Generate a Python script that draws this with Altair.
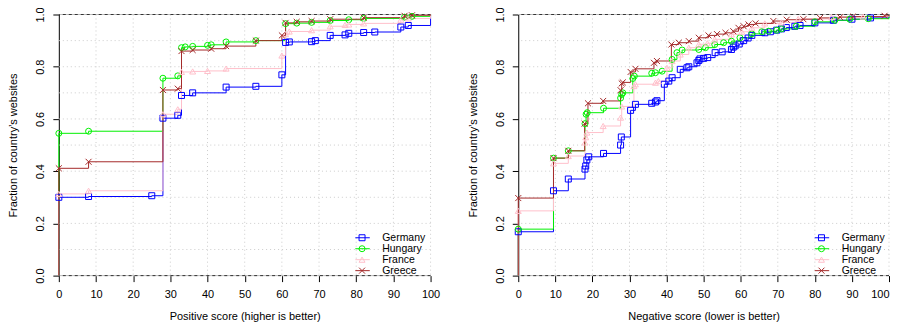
import altair as alt
import pandas as pd

SERIES = ["Germany", "Hungary", "France", "Greece"]
COLORS = ["#0000FF", "#00F000", "#FFC0CB", "#A52A2A"]
SHAPES = ["square", "circle", "triangle-up", "M-1,-1L1,1M-1,1L1,-1"]

X_TICKS = [0, 10, 20, 30, 40, 50, 60, 70, 80, 90, 100]
Y_TICKS = [0.0, 0.2, 0.4, 0.6, 0.8, 1.0]
X_GRID = [10, 20, 30, 40, 50, 60, 70, 80, 90, 100]
Y_GRID = [0.1, 0.2, 0.3, 0.4, 0.5, 0.6, 0.7, 0.8, 0.9]
H_LINES = [0.0, 1.0]

# ---- Positive score panel ----
pos_germany_x = [0, 8, 25, 28, 32, 33, 36, 45, 53, 60, 61, 62, 68, 69, 73, 77, 78, 82, 85, 92, 94]
pos_germany_y = [0.30, 0.303, 0.306, 0.603, 0.614, 0.69, 0.70, 0.722, 0.725, 0.769, 0.893, 0.895,
                 0.896, 0.90, 0.92, 0.922, 0.928, 0.931, 0.933, 0.952, 0.958]
pos_hungary_x = [0, 8, 28, 32, 33, 34, 36, 40, 41, 45, 53, 61, 64, 68, 73, 78, 82, 93, 95]
pos_hungary_y = [0.545, 0.553, 0.756, 0.765, 0.873, 0.876, 0.878, 0.882, 0.884, 0.895, 0.90, 0.965,
                 0.967, 0.97, 0.977, 0.98, 0.985, 0.99, 0.993]
pos_france_x = [0, 8, 28, 32, 33, 36, 40, 45, 60, 61, 62, 68, 73, 77, 78, 82, 92, 94]
pos_france_y = [0.313, 0.325, 0.618, 0.637, 0.78, 0.782, 0.784, 0.793, 0.843, 0.925, 0.935, 0.94,
                0.955, 0.96, 0.962, 0.966, 0.98, 0.985]
pos_greece_x = [0, 8, 28, 32, 33, 36, 41, 45, 53, 60, 61, 64, 68, 73, 82, 93, 95]
pos_greece_y = [0.411, 0.436, 0.711, 0.716, 0.86, 0.864, 0.869, 0.879, 0.90, 0.92, 0.968, 0.972,
                0.975, 0.982, 0.988, 0.995, 0.997]

# ---- Negative score panel ----
neg_germany_x = [0, 9.5, 13.5, 18, 18.2, 18.5, 19, 23, 27.6, 27.8, 30.3, 31.6, 36, 37, 37.4, 39.4,
                 40.6, 41.5, 43.7, 45.5, 46, 48.2, 48.7, 49, 50, 51.1, 53.1, 55, 57.5, 58, 58.5,
                 59.6, 60.8, 62, 63, 66.5, 68, 69.7, 71, 72.3, 74.6, 76, 80, 85, 90, 95]
neg_germany_y = [0.168, 0.325, 0.37, 0.408, 0.42, 0.443, 0.455, 0.468, 0.50, 0.531, 0.633, 0.656,
                 0.66, 0.665, 0.67, 0.733, 0.745, 0.758, 0.79, 0.796, 0.80, 0.815, 0.824, 0.83,
                 0.832, 0.835, 0.854, 0.857, 0.866, 0.875, 0.88, 0.887, 0.90, 0.91, 0.92, 0.93,
                 0.934, 0.94, 0.945, 0.95, 0.955, 0.958, 0.968, 0.978, 0.982, 0.987]
neg_hungary_x = [0, 9.5, 13.5, 18, 18.3, 18.6, 23, 27.6, 27.9, 28.2, 30.9, 31.3, 36, 37, 38.8, 41.5,
                 42.8, 44.2, 48.7, 50.5, 53, 55.4, 57.5, 59.8, 63, 65.7, 67.5, 69.7, 71, 75, 80,
                 85.4, 89.4, 94.4]
neg_hungary_y = [0.178, 0.45, 0.478, 0.582, 0.618, 0.624, 0.641, 0.68, 0.694, 0.70, 0.755, 0.764,
                 0.775, 0.777, 0.783, 0.828, 0.854, 0.864, 0.866, 0.873, 0.885, 0.892, 0.898,
                 0.911, 0.926, 0.934, 0.936, 0.94, 0.945, 0.955, 0.972, 0.978, 0.982, 0.984]
neg_france_x = [0, 9.5, 13.5, 18, 18.2, 18.5, 22.9, 27.6, 27.9, 31.2, 31.6, 37, 37.8, 40.1, 41.5,
                43.7, 46, 48.7, 51, 53, 57.5, 60.3, 63, 66.5, 71, 75.5, 84.5, 93]
neg_france_y = [0.248, 0.43, 0.458, 0.51, 0.53, 0.548, 0.573, 0.605, 0.648, 0.726, 0.733, 0.739,
                0.745, 0.796, 0.822, 0.847, 0.873, 0.886, 0.89, 0.905, 0.924, 0.934, 0.949, 0.966,
                0.97, 0.983, 0.99, 0.992]
neg_greece_x = [0, 9.5, 13.5, 17.9, 18.8, 22.9, 27.6, 27.9, 28.2, 30.3, 31.6, 36.6, 37.4, 41.3,
                43.3, 46, 48.7, 51.3, 53.6, 55.9, 58, 59.4, 60.8, 62.1, 64, 68.8, 72.4, 76.9,
                81.4, 86.8, 90.3, 98.8]
neg_greece_y = [0.297, 0.45, 0.478, 0.582, 0.66, 0.669, 0.71, 0.736, 0.74, 0.78, 0.792, 0.815,
                0.822, 0.885, 0.892, 0.898, 0.911, 0.92, 0.925, 0.93, 0.936, 0.949, 0.955, 0.962,
                0.966, 0.975, 0.98, 0.982, 0.987, 0.99, 0.992, 0.995]

POS = {"Germany": (pos_germany_x, pos_germany_y), "Hungary": (pos_hungary_x, pos_hungary_y),
       "France": (pos_france_x, pos_france_y), "Greece": (pos_greece_x, pos_greece_y)}
NEG = {"Germany": (neg_germany_x, neg_germany_y), "Hungary": (neg_hungary_x, neg_hungary_y),
       "France": (neg_france_x, neg_france_y), "Greece": (neg_greece_x, neg_greece_y)}

FONT = "Liberation Sans"


def build(data):
    pts, lines = [], []
    xmin, xmax = X_TICKS[0], X_TICKS[-1]
    for s in SERIES:
        xs, ys = data[s]
        for x, y in zip(xs, ys):
            pts.append({"series": s, "x": x, "y": y})
        seq = [(xmin, 0.0)] + list(zip(xs, ys)) + [(xmax, ys[-1]), (xmax, 1.0)]
        for i, (x, y) in enumerate(seq):
            lines.append({"series": s, "x": x, "y": y, "idx": i})
    return pd.DataFrame(pts), pd.DataFrame(lines)


def panel(data, xtitle, width, flush_last):
    pts, lines = build(data)
    xs = alt.Scale(domain=[0, 100], nice=False, zero=False)
    ys = alt.Scale(domain=[0, 1], nice=False)
    cs = alt.Scale(domain=SERIES, range=COLORS)
    ss = alt.Scale(domain=SERIES, range=SHAPES)

    xkw = {}
    if flush_last:
        xkw["labelAlign"] = {"condition": {"test": "datum.value >= 100", "value": "right"},
                             "value": "center"}
    xaxis = alt.Axis(values=X_TICKS, format="d", tickSize=6, labelPadding=7, titlePadding=11,
                     domain=False, grid=False, labelFlush=False, title=xtitle, **xkw)
    yaxis = alt.Axis(values=Y_TICKS, format=".1f", tickSize=6, labelPadding=7, titlePadding=16,
                     labelAngle=270, labelAlign="center", labelBaseline="bottom",
                     domain=True, grid=False, labelFlush=False,
                     title="Fraction of country\u2019s websites")

    X = lambda f: alt.X(f, scale=xs, axis=xaxis)
    Y = lambda f: alt.Y(f, scale=ys, axis=yaxis)

    gx = alt.Chart(pd.DataFrame({"g": X_GRID})).mark_rule(
        color="#cccccc", strokeDash=[1, 3], strokeWidth=1).encode(x=X("g:Q"))
    gy = alt.Chart(pd.DataFrame({"g": Y_GRID})).mark_rule(
        color="#cccccc", strokeDash=[1, 3], strokeWidth=1).encode(y=Y("g:Q"))
    hl_base = alt.Chart(pd.DataFrame({"h": H_LINES})).mark_rule(
        color="#bbbbbb", strokeWidth=1).encode(y=Y("h:Q"))
    hl = alt.Chart(pd.DataFrame({"h": H_LINES})).mark_rule(
        color="#333333", strokeDash=[3, 3], strokeWidth=1).encode(y=Y("h:Q"))

    line_legend = alt.Legend(orient="none", legendX=297.5, legendY=219, title=None,
                             symbolType="M-2.2,0H2.2", symbolSize=81, symbolStrokeWidth=1,
                             labelExpr="''", rowPadding=-1, padding=0, clipHeight=10,
                             labelFontSize=10.5, labelFont=FONT)
    pt_legend = alt.Legend(orient="none", legendX=299, legendY=219, title=None,
                           symbolSize=36, symbolStrokeWidth=1, labelOffset=15,
                           rowPadding=-1, padding=0, clipHeight=10,
                           labelFontSize=10.5, labelFont=FONT, labelColor="black")

    ln = alt.Chart(lines).mark_line(interpolate="step-after", strokeWidth=1).encode(
        x=X("x:Q"), y=Y("y:Q"),
        color=alt.Color("series:N", scale=cs, legend=line_legend),
        order=alt.Order("idx:Q"),
    )
    pt = alt.Chart(pts).mark_point(filled=False, size=36, strokeWidth=1, opacity=1).encode(
        x=X("x:Q"), y=Y("y:Q"),
        color=alt.Color("series:N", scale=cs, legend=pt_legend),
        shape=alt.Shape("series:N", scale=ss, legend=pt_legend),
    )
    return alt.layer(gx, gy, hl_base, hl, ln, pt).resolve_legend(
        color="independent", shape="independent").properties(width=width, height=262)


left = panel(POS, "Positive score (higher is better)", 373, False)
right = panel(NEG, "Negative score (lower is better)", 372, True)

chart = alt.hconcat(left, right, spacing=27).resolve_scale(
    color="independent", shape="independent").properties(
    padding={"top": -2, "left": 0, "right": 0, "bottom": 0}).configure_view(
    stroke=None).configure_axis(
    labelFont=FONT, titleFont=FONT, labelFontSize=11, titleFontSize=11,
    titleFontWeight="normal", labelColor="black", titleColor="black",
    tickColor="black", domainColor="black", tickWidth=1, domainWidth=1)

chart.save("out.html", embed_options={"renderer": "svg", "actions": False})
